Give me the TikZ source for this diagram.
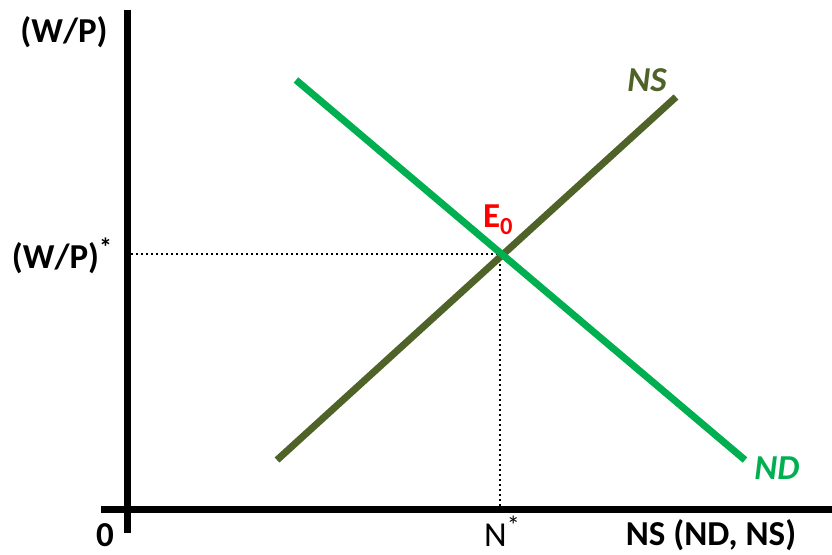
\documentclass[tikz,border=0pt]{standalone}
\usepackage{fontspec}
\setmainfont{Carlito}
\definecolor{ndgreen}{HTML}{00B050}
\definecolor{nsolive}{HTML}{4F6228}
\definecolor{eqred}{HTML}{FF0000}
\newcommand{\bigstarsup}{\raisebox{0.32em}{\fontsize{26}{28}\selectfont *}}
\begin{document}
\begin{tikzpicture}[x=1pt,y=-1pt,
  axis/.style={line width=7pt,black},
  curve/.style={line width=7pt},
  guide/.style={line width=2pt,dash pattern=on 2pt off 3pt,black},
  lab/.style={font=\fontsize{35}{40}\selectfont\bfseries,inner sep=0pt,anchor=base}]
\useasboundingbox (0,0) rectangle (832,554);
% axes
\coordinate (ytop) at (127,10);
\coordinate (ybot) at (127,533);
\coordinate (xleft) at (101,509);
\coordinate (xright) at (832,509);
\draw[axis] (ytop) -- (ybot);
\draw[axis] (xleft) -- (xright);
% curves
\coordinate (ndA) at (296,80);
\coordinate (ndB) at (745,460);
\coordinate (nsA) at (277,460);
\coordinate (nsB) at (676,97);
\coordinate (eq) at (500,254);
\coordinate (yeq) at (131,254);
\coordinate (xeq) at (500,506);
\draw[guide] (yeq) -- (eq);
\draw[guide] (eq) -- (xeq);
\draw[curve,nsolive] (nsA) -- (nsB);
\draw[curve,ndgreen] (ndA) -- (ndB);
% labels
\node[lab] (ylab) at (64,42) {(W/P)};
\node[lab] (ystar) at (62,268) {(W/P)\bigstarsup};
\node[lab] (zero) at (105,546) {0};
\node[lab,font=\fontsize{35}{40}\selectfont] (nstar) at (502,546) {N\bigstarsup};
\node[lab] (xlab) at (711,545) {NS (ND, NS)};
\node[lab,font=\fontsize{35}{40}\selectfont\bfseries\itshape,text=ndgreen] (ndlab) at (777,479) {ND};
\node[lab,font=\fontsize{35}{40}\selectfont\bfseries\itshape,text=nsolive] (nslab) at (647,91) {NS};
\node[lab,text=eqred] (elab) at (498,227) {E\textsubscript{0}};
\end{tikzpicture}
\end{document}
